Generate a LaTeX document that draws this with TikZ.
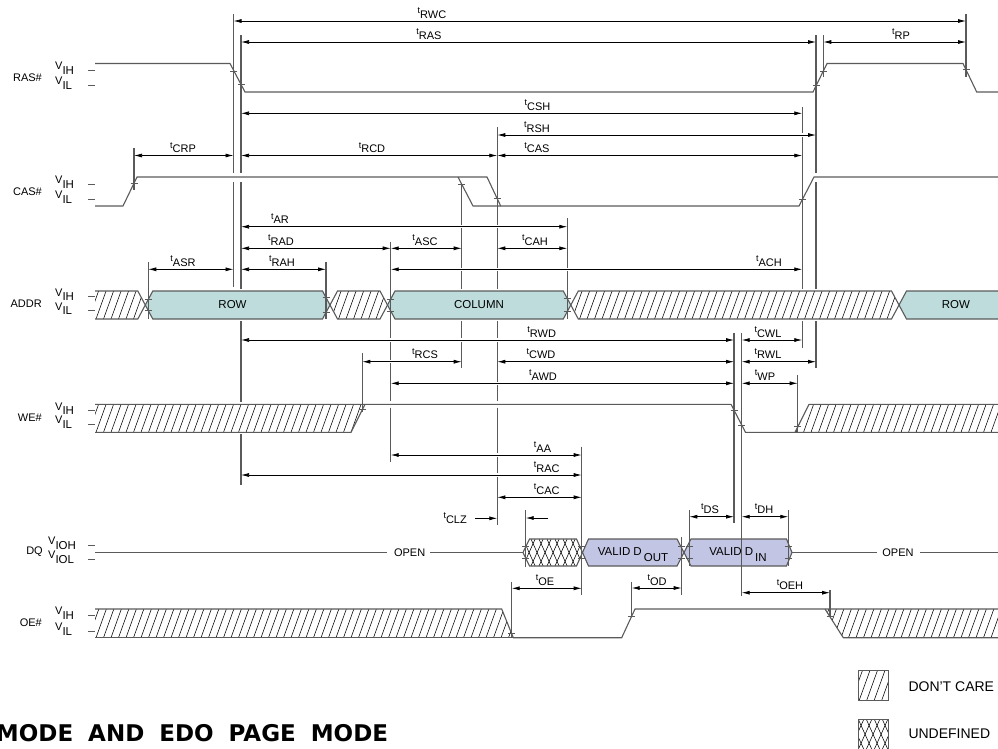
\documentclass[tikz,border=0pt]{standalone}
\usepackage{fontspec}
\setmainfont{Liberation Sans}
\newfontfamily\titlefont{DejaVu Sans}
\usetikzlibrary{arrows.meta}
\definecolor{wavec}{HTML}{5A5A5A}
\definecolor{rowfill}{HTML}{BEDCDC}
\definecolor{dfill}{HTML}{C2C6E4}
\newcommand\labfont{\fontsize{11}{13}\selectfont}
\newcommand\boxfont{\fontsize{11.5}{13}\selectfont}
\newcommand\legfont{\fontsize{14}{16}\selectfont}
\newcommand\tl[1]{\raisebox{4.5pt}{\fontsize{9}{9}\selectfont t}#1}
\newcommand\vl[1]{\raisebox{4.5pt}{\fontsize{11}{11}\selectfont V}{\fontsize{11.5}{13}\selectfont #1}}
% hatched region: #1 polygon, #2 x start, #3 x end, #4 top, #5 bottom
\newcommand\hatchreg[5]{%
  \fill[white] #1;
  \begin{scope}
    \clip #1;
    \pgfmathsetmacro\hxa{#2-14}%
    \pgfmathsetmacro\hxb{#2-14+7.5}%
    \pgfmathsetmacro\hdx{0.36*(#5-#4)}%
    \pgfmathsetmacro\hdy{#5-#4}%
    \foreach \xx in {\hxa,\hxb,...,#3} {\draw[hline] (\xx,#5) -- ++(\hdx,-\hdy);}
  \end{scope}}
% cross-hatched region
\newcommand\xhatchreg[5]{%
  \fill[white] #1;
  \begin{scope}
    \clip #1;
    \pgfmathsetmacro\hxa{#2-16}%
    \pgfmathsetmacro\hxb{#2-16+8}%
    \pgfmathsetmacro\hdx{0.45*(#5-#4)}%
    \pgfmathsetmacro\hdy{#5-#4}%
    \foreach \xx in {\hxa,\hxb,...,#3} {\draw[hline] (\xx,#5) -- ++(\hdx,-\hdy); \draw[hline] (\xx,#4) -- ++(\hdx,\hdy);}
  \end{scope}}
\newcommand\vseg[3]{\draw[vref] (#1,#2) -- (#1,#3);}
\newcommand\tick[2]{\draw[wavec, line width=0.9pt] ({#1-3.5},#2) -- ({#1+3.5},#2);}
% timing arrow: #1 y, #2 x1, #3 x2, #4 label x, #5 name
\newcommand\tarr[5]{%
  \draw[white, line width=3.5pt, shorten <=6pt, shorten >=6pt] (#2,#1) -- (#3,#1);
  \draw[tarrow] (#2,#1) -- (#3,#1);
  \node[tlab] (t#5) at (#4,{#1-3}) {\tl{#5}};}
\begin{document}
\begin{tikzpicture}[x=1pt,y=-1pt,
  wave/.style={draw=wavec, line width=1.1pt},
  vref/.style={draw=wavec, line width=1.1pt},
  hline/.style={draw=black, line width=0.55pt},
  tarrow/.style={draw=black, line width=0.75pt, {Latex[length=8pt,width=4pt]}-{Latex[length=8pt,width=4pt]}},
  sarrow/.style={draw=black, line width=0.75pt, -{Latex[length=8pt,width=4pt]}},
  tlab/.style={inner sep=0pt, anchor=base, font=\labfont},
  sig/.style={inner sep=0pt, anchor=east, font=\labfont},
  vlab/.style={inner sep=0pt, anchor=base west, font=\labfont},
  boxlab/.style={inner sep=0pt, font=\boxfont},
  leglab/.style={inner sep=0pt, anchor=west, font=\legfont},
]
\useasboundingbox (0,0) rectangle (998,748);

% ---------------- ADDR bus ----------------
\hatchreg{(95,291) -- (137.8,291) -- (145.3,305) -- (137.8,319) -- (95,319) -- cycle}{95}{146}{291}{319}
\hatchreg{(330,305) -- (337.5,291) -- (380,291) -- (387.5,305) -- (380,319) -- (337.5,319) -- cycle}{330}{388}{291}{319}
\hatchreg{(570.8,305) -- (578.3,291) -- (891.5,291) -- (899,305) -- (891.5,319) -- (578.3,319) -- cycle}{571}{900}{291}{319}
\draw[wave] (95,291) -- (137.8,291) -- (145.3,305) -- (137.8,319) -- (95,319);
\draw[wave] (330,305) -- (337.5,291) -- (380,291) -- (387.5,305) -- (380,319) -- (337.5,319) -- cycle;
\draw[wave] (570.8,305) -- (578.3,291) -- (891.5,291) -- (899,305) -- (891.5,319) -- (578.3,319) -- cycle;
\draw[wave, fill=rowfill] (145.3,305) -- (152.8,291) -- (322.5,291) -- (330,305) -- (322.5,319) -- (152.8,319) -- cycle;
\draw[wave, fill=rowfill] (387.5,305) -- (395,291) -- (563.3,291) -- (570.8,305) -- (563.3,319) -- (395,319) -- cycle;
\draw[wave, fill=rowfill] (1010,291) -- (906.5,291) -- (899,305) -- (906.5,319) -- (1010,319);

% ---------------- RAS# / CAS# ----------------
\draw[wave] (95,63.5) -- (230,63.5) -- (245,92) -- (813,92) -- (827,63.5) -- (963,63.5) -- (976.7,92) -- (1010,92);
\draw[wave] (95,206) -- (123,206) -- (137,177) -- (487,177) -- (500.7,206) -- (799,206) -- (814,177) -- (1010,177);
\draw[wave] (458,177) -- (473,206) -- (500.7,206);

% ---------------- WE# ----------------
\hatchreg{(95,404.3) -- (365,404.3) -- (351,432.3) -- (95,432.3) -- cycle}{95}{366}{404.3}{432.3}
\hatchreg{(795,432.3) -- (809,404.3) -- (1010,404.3) -- (1010,432.3) -- cycle}{795}{1005}{404.3}{432.3}
\draw[wave] (95,432.3) -- (351,432.3) -- (365,404.3);
\draw[wave] (95,404.3) -- (731,404.3) -- (745.5,432.3) -- (1010,432.3);
\draw[wave] (795,432.3) -- (809,404.3) -- (1010,404.3);

% ---------------- DQ ----------------
\xhatchreg{(523,552.5) -- (529.5,539) -- (576.5,539) -- (582.5,552.5) -- (576.5,566) -- (529.5,566) -- cycle}{523}{584}{539}{566}
\draw[wave] (523,552.5) -- (529.5,539) -- (576.5,539) -- (582.5,552.5) -- (576.5,566) -- (529.5,566) -- cycle;
\draw[wave, fill=dfill] (582.5,552.5) -- (588.5,539) -- (677,539) -- (684,552.5) -- (677,566) -- (588.5,566) -- cycle;
\draw[wave, fill=dfill] (684,552.5) -- (691,539) -- (786.5,539) -- (792,552.5) -- (786.5,566) -- (691,566) -- cycle;
\draw[wave] (95,552.5) -- (386.7,552.5);
\draw[wave] (430,552.5) -- (523,552.5);
\draw[wave] (792,552.5) -- (876.7,552.5);
\draw[wave] (920,552.5) -- (1010,552.5);

% ---------------- OE# ----------------
\hatchreg{(95,609) -- (501.7,609) -- (513.3,637.7) -- (95,637.7) -- cycle}{95}{514}{609}{637.7}
\hatchreg{(825,609) -- (1010,609) -- (1010,637.7) -- (843.3,637.7) -- cycle}{825}{1005}{609}{637.7}
\draw[wave] (95,637.7) -- (513.3,637.7);
\draw[wave] (95,609) -- (501.7,609) -- (513.3,637.7) -- (621.7,637.7) -- (635,609) -- (1010,609);
\draw[wave] (825,609) -- (843.3,637.7) -- (1010,637.7);

% ---------------- reference lines ----------------
\vseg{233.5}{14}{173}\vseg{233.5}{182}{287}
\vseg{241}{35}{173}\vseg{241}{182}{289}\vseg{241}{321}{402}\vseg{241}{434}{485}
\vseg{134}{148}{190}
\vseg{148.3}{262}{319}
\vseg{326}{262}{319}
\vseg{390.7}{241.7}{401}\vseg{390.7}{407.5}{461.7}
\vseg{461.7}{183}{289}\vseg{461.7}{321}{368}
\vseg{497.3}{127}{289}\vseg{497.3}{321}{401}\vseg{497.3}{407.5}{525}
\vseg{567.3}{218}{319}
\vseg{362.3}{353}{412}
\vseg{581.7}{446.7}{595}
\vseg{525.7}{510}{566.7}
\vseg{511.7}{581.7}{637}
\vseg{631.7}{581.7}{616}
\vseg{681.7}{537}{595}
\vseg{689.3}{510}{566}
\vseg{788.3}{510}{566}
\vseg{734}{333.3}{523.3}
\vseg{741.7}{333.3}{596}
\vseg{797.7}{375}{432}
\vseg{802.3}{107}{289}\vseg{802.3}{321}{347.7}
\vseg{816}{35}{173}\vseg{816}{182}{289}\vseg{816}{321}{368.3}
\vseg{823.3}{35}{77}
\vseg{966}{14}{77}
\vseg{830}{590}{617}

% ---------------- timing arrows ----------------
\tarr{21}{233.5}{966}{432}{RWC}
\tarr{42}{241}{816}{429}{RAS}
\tarr{42}{823.3}{966}{901}{RP}
\tarr{113.3}{241}{802.3}{537.5}{CSH}
\tarr{135}{497.3}{816}{537}{RSH}
\tarr{155.5}{134}{233.5}{183}{CRP}
\tarr{155.5}{241}{497.3}{372}{RCD}
\tarr{155.5}{497.3}{802.3}{537}{CAS}
\tarr{226.7}{241}{567.3}{280}{AR}
\tarr{248.3}{241}{390.7}{281}{RAD}
\tarr{248.3}{390.7}{461.7}{425}{ASC}
\tarr{248.3}{497.3}{567.3}{535}{CAH}
\tarr{269.3}{148.3}{233.5}{183}{ASR}
\tarr{269.3}{241}{326}{282}{RAH}
\tarr{269.3}{390.7}{802.3}{769}{ACH}
\tarr{340}{241}{734}{541.7}{RWD}
\tarr{340}{741.7}{802.3}{768}{CWL}
\tarr{361.7}{362.3}{461.7}{425}{RCS}
\tarr{361.7}{497.3}{734}{541}{CWD}
\tarr{361.7}{741.7}{816}{768}{RWL}
\tarr{383.3}{390.7}{734}{543}{AWD}
\tarr{383.3}{741.7}{797.7}{765}{WP}
\tarr{455}{390.7}{581.7}{542.5}{AA}
\tarr{475}{241}{581.7}{546.7}{RAC}
\tarr{497.3}{497.3}{581.7}{546.7}{CAC}
\tarr{516.7}{689.3}{734}{710}{DS}
\tarr{516.7}{741.7}{788.3}{764}{DH}
\tarr{588.3}{511.7}{581.7}{545}{OE}
\tarr{588}{631.7}{681.7}{657}{OD}
\tarr{592.7}{741.7}{830}{790}{OEH}
\draw[sarrow] (475,518.3) -- (497.3,518.3);
\draw[sarrow] (548.3,518) -- (525.7,518);
\node[tlab, anchor=base east] (tCLZ) at (467,523) {\tl{CLZ}};

% ---------------- ticks ----------------
\tick{233.5}{71.1}\tick{241}{84.4}\tick{816}{85.9}\tick{823.3}{71}\tick{966}{69.7}
\tick{134}{183.2}\tick{461.7}{184.2}\tick{497.3}{198.8}\tick{802.3}{199.6}
\tick{148.3}{299.4}\tick{148.3}{310.6}\tick{326}{297.5}\tick{326}{312.5}
\tick{390.7}{299}\tick{390.7}{311}\tick{567.3}{298.5}\tick{567.3}{311.5}
\tick{362.3}{409.7}\tick{734}{410.1}\tick{741.7}{425}\tick{797.7}{426.9}
\tick{525.7}{546.9}\tick{525.7}{558.1}\tick{581.7}{546.5}\tick{581.7}{558.5}
\tick{681.7}{546.5}\tick{681.7}{558.5}\tick{689.3}{546.5}\tick{689.3}{558.5}
\tick{788.3}{546.5}\tick{788.3}{558.5}
\tick{511.7}{633.7}\tick{631.7}{616}\tick{830}{616.8}

% ---------------- signal names and levels ----------------
\foreach \ya/\yb in {70.3/85, 184.3/199, 296.7/310.7, 410.7/424, 545/559, 615/631}
  {\draw[wavec, line width=0.9pt] (88,\ya) -- (95,\ya); \draw[wavec, line width=0.9pt] (88,\yb) -- (95,\yb);}
\node[sig] (nRAS) at (42,77.7) {RAS\#};
\node[sig] (nCAS) at (42,191.7) {CAS\#};
\node[sig] (nADDR) at (42,303.7) {ADDR};
\node[sig] (nWE) at (42,417.3) {WE\#};
\node[sig] (nDQ) at (43,552) {DQ};
\node[sig] (nOE) at (42,623) {OE\#};
\node[vlab] (vRASh) at (55,74.3) {\vl{IH}};
\node[vlab] (vRASl) at (55,89) {\vl{IL}};
\node[vlab] (vCASh) at (55,188.3) {\vl{IH}};
\node[vlab] (vCASl) at (55,203) {\vl{IL}};
\node[vlab] (vADh) at (55,300.7) {\vl{IH}};
\node[vlab] (vADl) at (55,314.7) {\vl{IL}};
\node[vlab] (vWEh) at (55,414.7) {\vl{IH}};
\node[vlab] (vWEl) at (55,428) {\vl{IL}};
\node[vlab] (vDQh) at (48,549) {\vl{IOH}};
\node[vlab] (vDQl) at (48,563) {\vl{IOL}};
\node[vlab] (vOEh) at (55,619) {\vl{IH}};
\node[vlab] (vOEl) at (55,635) {\vl{IL}};

% ---------------- box labels ----------------
\node[boxlab] (lrow) at (232.5,305) {ROW};
\node[boxlab] (lcol) at (479,305) {COLUMN};
\node[boxlab] (lrow2) at (955.8,305) {ROW};
\node[boxlab, anchor=base] (ldout) at (633,555.5) {VALID D\kern2pt\raisebox{-6pt}{OUT}};
\node[boxlab, anchor=base] (ldin) at (738,555.5) {VALID D\kern2pt\raisebox{-6pt}{IN}};
\node[inner sep=0pt, font=\labfont] (lopen1) at (409.6,552.5) {OPEN};
\node[inner sep=0pt, font=\labfont] (lopen2) at (898,552.5) {OPEN};

% ---------------- legend ----------------
\hatchreg{(858.3,670) rectangle (888.3,700)}{858.3}{889}{670}{700}
\draw[wavec, line width=0.9pt] (858.3,670) rectangle (888.3,700);
\xhatchreg{(858.3,719.3) rectangle (888.3,749.3)}{858.3}{889}{719.3}{749.3}
\draw[wavec, line width=0.9pt] (858.3,719.3) rectangle (888.3,749.3);
\node[leglab] (lgdc) at (908.3,686.7) {DON’T CARE};
\node[leglab] (lgun) at (908.3,733.3) {UNDEFINED};

% ---------------- title ----------------
\node[inner sep=0pt, anchor=base east, font={\titlefont\bfseries\fontsize{23}{26}\selectfont}] (title) at (388.3,741.7)
  {MODE\hspace{15pt}AND\hspace{15pt}EDO\hspace{15pt}PAGE\hspace{15pt}MODE};
\end{tikzpicture}
\end{document}
